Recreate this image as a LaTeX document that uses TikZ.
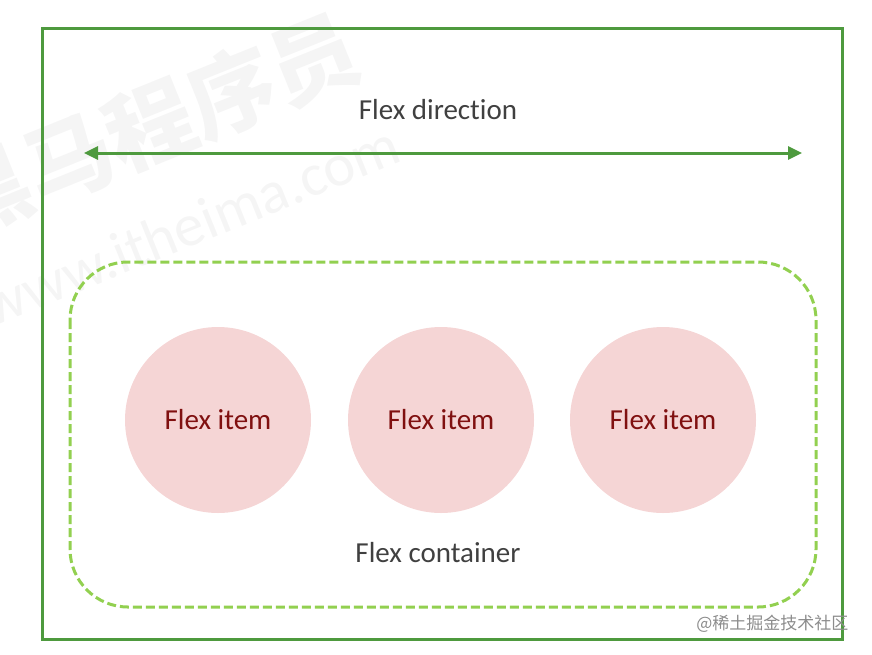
\documentclass[tikz,border=0pt]{standalone}
\usepackage{fontspec}
\setmainfont{Carlito}[Ligatures=NoCommon]
\newfontfamily\cjkfont{Noto Sans CJK SC}
\usetikzlibrary{positioning, arrows.meta}
\definecolor{framegreen}{RGB}{78,154,62}
\definecolor{dashgreen}{RGB}{146,208,80}
\definecolor{itempink}{RGB}{245,213,213}
\definecolor{itemred}{RGB}{128,16,16}
\definecolor{labelgray}{RGB}{64,64,64}

\begin{document}
\begin{tikzpicture}[
        x=1pt, y=-1pt,
        label/.style={font=\fontsize{29}{34}\selectfont, text=labelgray},
        item/.style={circle, fill=itempink, minimum size=186pt, inner sep=0pt,
            font=\fontsize{29}{34}\selectfont, text=itemred},
        arr/.style={{Triangle[length=14pt, width=13pt]}-{Triangle[length=14pt, width=13pt]}, line width=3pt, draw=framegreen}
    ]
        \useasboundingbox (0,0) rectangle (872,654);
        % watermarks
        \node[rotate=22, text=black!4, font=\cjkfont\bfseries\fontsize{88}{90}\selectfont] (wmark) at (150,125) {黑马程序员};
        \node[rotate=22, text=black!4, font=\fontsize{60}{64}\selectfont] (wsite) at (190,225) {www.itheima.com};

        % flex container frame
        \draw[framegreen, line width=3pt] (42,28) rectangle (842,639);
        \draw[dashgreen, line width=3pt, dash pattern=on 9pt off 4pt, rounded corners=58pt] (70,262) rectangle (816,607);

        \node[label] (dir) at (438,110) {Flex direction};
        \coordinate (dirL) at (84,153);
        \coordinate (dirR) at (802,153);
        \draw[arr] (dirL) -- (dirR);

        \node[item] (i1) at (218,420) {Flex item};
        \node[item] (i2) at (441,420) {Flex item};
        \node[item] (i3) at (663,420) {Flex item};

        \node[label] (box) at (438,553) {Flex container};

        \node[text=black!45, font=\cjkfont\fontsize{17}{20}\selectfont, anchor=east] (site) at (852,624) {@稀土掘金技术社区};
    \end{tikzpicture}
\end{document}
